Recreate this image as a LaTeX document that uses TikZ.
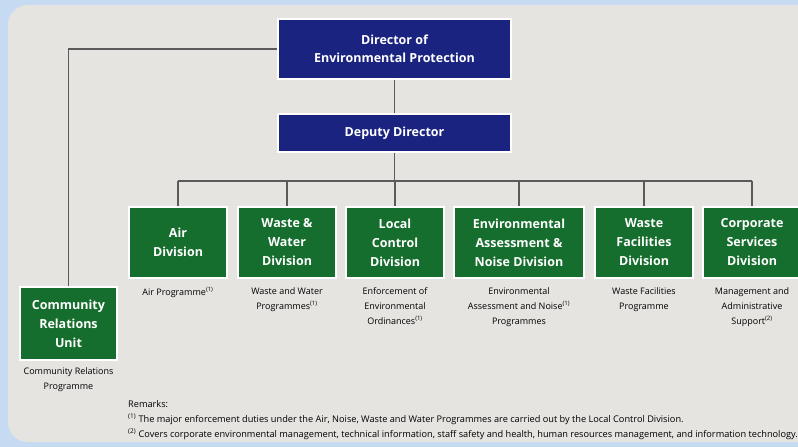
\documentclass[tikz,border=0pt]{standalone}
\usepackage{fontspec}
\setmainfont{Open Sans}
\usetikzlibrary{positioning}
\definecolor{skyback}{RGB}{198,218,242}
\definecolor{panelgray}{RGB}{230,228,225}
\definecolor{headblue}{RGB}{26,36,128}
\definecolor{divgreen}{RGB}{22,110,46}
\definecolor{linegray}{RGB}{90,90,90}
\begin{document}
\begin{tikzpicture}[x=1pt, y=-1pt,
    headbox/.style={fill=headblue, draw=white, line width=1.2pt, text=white,
        font=\bfseries\fontsize{12.5}{18}\selectfont, align=center,
        minimum width=233pt, inner sep=0pt},
    divbox/.style={fill=divgreen, draw=white, line width=1.2pt, text=white,
        font=\bfseries\fontsize{12.5}{19}\selectfont, align=center,
        minimum width=98pt, minimum height=71pt, inner sep=0pt},
    duty/.style={font=\fontsize{9}{15}\selectfont, align=center, inner sep=0pt},
    link/.style={draw=linegray, line width=1.3pt}]
        % Background
        \useasboundingbox (0,0) rectangle (798,447);
        \fill[skyback] (0,0) rectangle (798,447);
        \fill[panelgray, rounded corners=20pt] (8,5) rectangle (818,442);

        % Management
        \node[headbox, minimum height=60pt] (director) at (394.5,49) {Director of\\Environmental Protection};
        \node[headbox, minimum height=38pt] (deputy) at (394.5,133) {Deputy Director};

        % Divisions
        \node[divbox] (air) at (178,242.5) {Air\\Division};
        \node[divbox] (wastewater) at (287,242.5) {Waste \&\\Water\\Division};
        \node[divbox] (localctrl) at (395,242.5) {Local\\Control\\Division};
        \node[divbox, minimum width=130pt] (envassess) at (519,242.5) {Environmental\\Assessment \&\\Noise Division};
        \node[divbox] (wastefac) at (644,242.5) {Waste\\Facilities\\Division};
        \node[divbox] (corporate) at (752,242.5) {Corporate\\Services\\Division};
        \node[divbox, minimum width=97pt, minimum height=73pt] (community) at (68.5,323.5) {Community\\Relations\\Unit};

        % Programmes
        \node[duty, below=8.5pt of air] (airprog) {Air Programme\textsuperscript{(1)}};
        \node[duty, below=8.5pt of wastewater] (wwprog) {Waste and Water\\Programmes\textsuperscript{(1)}};
        \node[duty, below=8.5pt of localctrl] (ctrlprog) {Enforcement of\\Environmental\\Ordinances\textsuperscript{(1)}};
        \node[duty, below=8.5pt of envassess] (envprog) {Environmental\\Assessment and Noise\textsuperscript{(1)}\\Programmes};
        \node[duty, below=8.5pt of wastefac] (facprog) {Waste Facilities\\Programme};
        \node[duty, below=8.5pt of corporate] (corpprog) {Management and\\Administrative\\Support\textsuperscript{(2)}};
        \node[duty, below=7pt of community] (commprog) {Community Relations\\Programme};

        % Lines
        \coordinate (bus) at (0,181);
        \draw[link] (director) -- (deputy);
        \draw[link] (deputy.south) -- (deputy.south |- bus);
        \draw[link] (air.north |- bus) -- (corporate.north |- bus);
        \foreach \unit in {air,wastewater,localctrl,envassess,wastefac,corporate}
            \draw[link] (\unit.north |- bus) -- (\unit.north);
        \draw[link] (director.west) -| (community.north);

        % Remarks
        \node[anchor=north west, align=left, inner sep=0pt, font=\fontsize{9.2}{15}\selectfont] (remarks) at (128,400)
            {Remarks:\\
             \textsuperscript{(1)} The major enforcement duties under the Air, Noise, Waste and Water Programmes are carried out by the Local Control Division.\\
             \textsuperscript{(2)} Covers corporate environmental management, technical information, staff safety and health, human resources management, and information technology.};
\end{tikzpicture}
\end{document}
